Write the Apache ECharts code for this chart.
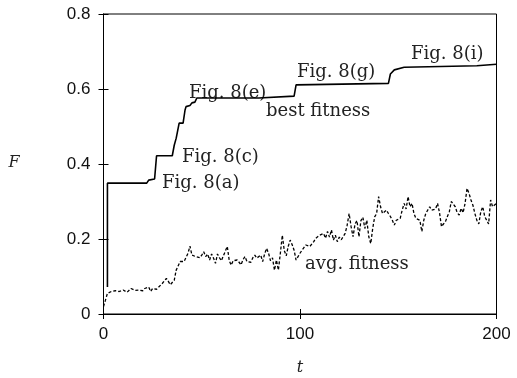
<!DOCTYPE html>
<html><head><meta charset="utf-8">
<script src="https://cdn.jsdelivr.net/npm/echarts@6/dist/echarts.min.js"></script>
<style>html,body{margin:0;padding:0;background:#fff}#c{width:517px;height:378px}</style>
</head><body><div id="c"></div>
<script>
// best fitness [t, F]
var bestT = [2,2,22,23,26,27,35,36,37,38,38.5,40.5,41.5,42,44,45,46.5,47.5,79,80,97,98,145,146,148,153,190,191,200];
var bestF = [0.072,0.349,0.349,0.357,0.36,0.422,0.422,0.45,0.469,0.47,0.509,0.509,0.544,0.553,0.556,0.563,0.565,0.576,0.576,0.581,0.581,0.611,0.615,0.64,0.651,0.658,0.662,0.666,0.666];
// avg fitness [t, F]
var avgT = [0,1,2,4,6,8,10,12,14,16,18,20,21,23,24,25,27,28,30,32,33,34,35,36,37,39,40,41,42,43,44,45,46,47,48,49,50,51,52,53,54,55,56,57,58,59,60,61,62,63,64,65,66,67,68,69,70,71,72,73,74,75,76,77,78,79,80,81,82,83,84,85,86,87,88,89,90,91,92,93,94,95,96,97,98,99,100,101,102,103,105,107,108,110,111,112,113,114,115,116,117,118,119,120,121,122,123,124,125,126,127,128,129,130,131,132,133,134,135,136,137,138,139,140,141,142,143,144,145,146,147,148,149,150,151,152,153,154,155,156,157,158,159,160,161,162,163,164,165,166,167,168,169,170,171,172,173,174,175,176,177,178,179,180,181,182,183,184,185,186,187,188,189,190,191,192,193,194,195,196,197,198,199,200];
var avgF = [0.02,0.037,0.055,0.06,0.062,0.06,0.064,0.058,0.068,0.063,0.064,0.062,0.068,0.072,0.06,0.068,0.066,0.064,0.082,0.095,0.087,0.078,0.077,0.09,0.117,0.14,0.138,0.14,0.144,0.162,0.181,0.157,0.155,0.153,0.157,0.15,0.157,0.166,0.153,0.16,0.144,0.16,0.149,0.135,0.16,0.15,0.142,0.155,0.153,0.18,0.142,0.13,0.142,0.14,0.144,0.138,0.131,0.145,0.153,0.14,0.145,0.138,0.15,0.157,0.149,0.152,0.157,0.14,0.16,0.175,0.162,0.142,0.15,0.117,0.144,0.117,0.162,0.21,0.169,0.155,0.18,0.197,0.185,0.17,0.144,0.153,0.162,0.17,0.175,0.184,0.18,0.193,0.202,0.21,0.205,0.215,0.202,0.22,0.205,0.224,0.197,0.21,0.193,0.205,0.198,0.193,0.215,0.237,0.268,0.233,0.206,0.24,0.249,0.206,0.249,0.258,0.228,0.25,0.206,0.188,0.228,0.259,0.268,0.313,0.286,0.268,0.27,0.277,0.268,0.26,0.25,0.237,0.25,0.246,0.255,0.277,0.295,0.28,0.313,0.286,0.295,0.268,0.255,0.26,0.25,0.22,0.25,0.268,0.27,0.286,0.277,0.282,0.28,0.295,0.27,0.233,0.24,0.246,0.26,0.273,0.3,0.304,0.286,0.27,0.264,0.282,0.27,0.295,0.335,0.322,0.304,0.29,0.268,0.25,0.24,0.273,0.286,0.26,0.25,0.24,0.304,0.286,0.282,0.295];
var xTicks = [0,100,200];
var yTicks = [0,0.2,0.4,0.6,0.8];
var labels = [
  {text:'Fig. 8(a)', x:162, y:183},
  {text:'Fig. 8(c)', x:182, y:157},
  {text:'Fig. 8(e)', x:189, y:93},
  {text:'best fitness', x:266, y:111},
  {text:'Fig. 8(g)', x:297, y:72},
  {text:'Fig. 8(i)', x:411, y:54},
  {text:'avg. fitness', x:305, y:264}
];

function zip(a,b){return a.map(function(v,i){return [v,b[i]];});}
var chart = echarts.init(document.getElementById('c'));
var serif = '"DejaVu Serif", serif';
var sans = '"Liberation Sans", Arial, sans-serif';
var axisCommon = {
  axisLine:{show:true,lineStyle:{color:'#000',width:1}},
  axisTick:{show:true,inside:true,length:5,lineStyle:{color:'#000'}},
  splitLine:{show:false}
};
var graphics = labels.map(function(l){
  return {type:'text', x:l.x, y:l.y, style:{text:l.text, font:'18px '+serif, fill:'#222', textAlign:'left', textVerticalAlign:'middle'}};
});
graphics.push({type:'text', x:14, y:163, style:{text:'F', font:'italic 16px '+serif, fill:'#222', textAlign:'center', textVerticalAlign:'middle'}});
graphics.push({type:'text', x:300, y:368, style:{text:'t', font:'italic 16px '+serif, fill:'#222', textAlign:'center', textVerticalAlign:'middle'}});
chart.setOption({
  animation:false,
  backgroundColor:'#fff',
  grid:{left:103.5, right:20.5, top:14, bottom:64, show:true, borderColor:'#000', borderWidth:1},
  xAxis:[
    Object.assign({type:'value', min:0, max:200, interval:100, position:'bottom',
      axisLabel:{color:'#111', fontSize:17, fontFamily:sans, margin:12}}, axisCommon),
    Object.assign({type:'value', min:0, max:200, interval:100, position:'top', axisLabel:{show:false}}, axisCommon)
  ],
  yAxis:[
    Object.assign({type:'value', min:0, max:0.8, interval:0.2, position:'left',
      axisLabel:{color:'#111', fontSize:17, fontFamily:sans, margin:13,
        formatter:function(v){return String(Math.round(v*10)/10);}}}, axisCommon),
    Object.assign({type:'value', min:0, max:0.8, interval:0.2, position:'right', axisLabel:{show:false}}, axisCommon)
  ],
  series:[
    {type:'line', data:zip(bestT,bestF), showSymbol:false, lineStyle:{color:'#000', width:1.6}, z:3},
    {type:'line', data:zip(avgT,avgF), showSymbol:false, lineStyle:{color:'#000', width:1.3, type:[3,2]}, z:2}
  ],
  graphic:graphics
});
</script></body></html>
